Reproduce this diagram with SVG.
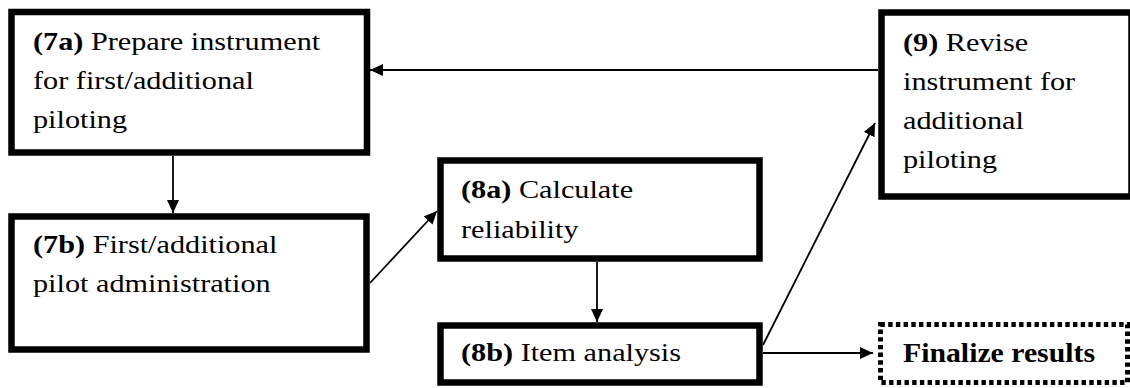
<svg xmlns="http://www.w3.org/2000/svg" width="1130" height="388" viewBox="0 0 1130 388">
  <style>
    .box { fill: #ffffff; stroke: #000000; stroke-width: 6.5; }
    .dotted { fill: #ffffff; stroke: #000000; stroke-width: 5; stroke-dasharray: 4.4 3.3; }
    .label { font-family: "Liberation Serif", "Times New Roman", serif; font-size: 25px; fill: #000000; }
    .label .num { font-weight: bold; }
    .final { font-family: "Liberation Serif", "Times New Roman", serif; font-size: 28px; font-weight: bold; fill: #000000; }
    .edge { fill: none; stroke: #000000; stroke-width: 1.8; marker-end: url(#arrow); }
  </style>
  <defs>
    <marker id="arrow" viewBox="0 0 13 12" refX="13" refY="6" markerWidth="13" markerHeight="12" markerUnits="userSpaceOnUse" orient="auto">
      <path d="M0,0 L13,6 L0,12 Z" fill="#000000"/>
    </marker>
  </defs>

  <rect width="1130" height="388" fill="#ffffff"/>

  <!-- connectors -->
  <g id="connectors">
    <line class="edge" x1="878" y1="70" x2="370" y2="70"/>
    <line class="edge" x1="173" y1="156" x2="173" y2="213"/>
    <line class="edge" x1="370" y1="283" x2="437" y2="211"/>
    <line class="edge" x1="597" y1="262" x2="597" y2="322"/>
    <line class="edge" x1="763" y1="345" x2="875" y2="123"/>
    <line class="edge" x1="763" y1="353" x2="873" y2="353"/>
  </g>

  <!-- 7a -->
  <g id="node-7a">
    <rect class="box" x="11.5" y="12" width="355.5" height="140.5"/>
    <g class="label" transform="translate(33,0) scale(1.21 1)">
      <text y="50"><tspan class="num">(7a)</tspan> Prepare instrument</text>
      <text y="89">for first/additional</text>
      <text y="128">piloting</text>
    </g>
  </g>

  <!-- 7b -->
  <g id="node-7b">
    <rect class="box" x="11.5" y="216.5" width="355" height="133"/>
    <g class="label" transform="translate(33,0) scale(1.21 1)">
      <text y="253"><tspan class="num">(7b)</tspan> First/additional</text>
      <text y="292">pilot administration</text>
    </g>
  </g>

  <!-- 8a -->
  <g id="node-8a">
    <rect class="box" x="440.5" y="160.5" width="319" height="98"/>
    <g class="label" transform="translate(461,0) scale(1.21 1)">
      <text y="198"><tspan class="num">(8a)</tspan> Calculate</text>
      <text y="238">reliability</text>
    </g>
  </g>

  <!-- 8b -->
  <g id="node-8b">
    <rect class="box" x="440.5" y="325.5" width="319" height="57"/>
    <g class="label" transform="translate(461,0) scale(1.21 1)">
      <text y="361"><tspan class="num">(8b)</tspan> Item analysis</text>
    </g>
  </g>

  <!-- 9 -->
  <g id="node-9">
    <rect class="box" x="881.5" y="12.5" width="250" height="184"/>
    <g class="label" transform="translate(903,0) scale(1.21 1)">
      <text y="51"><tspan class="num">(9)</tspan> Revise</text>
      <text y="90">instrument for</text>
      <text y="129">additional</text>
      <text y="168">piloting</text>
    </g>
  </g>

  <!-- finalize -->
  <g id="node-final">
    <rect class="dotted" x="880.5" y="324.5" width="247" height="58"/>
    <text class="final" x="903" y="362" textLength="192" lengthAdjust="spacingAndGlyphs">Finalize results</text>
  </g>
</svg>
